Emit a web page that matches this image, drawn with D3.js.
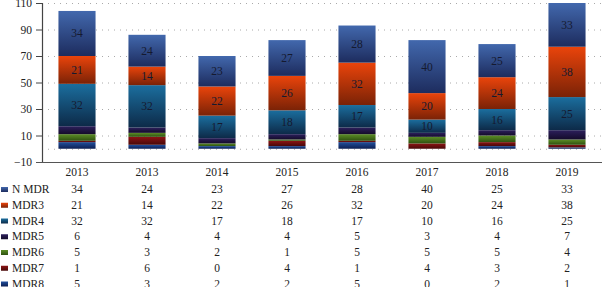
<!DOCTYPE html>
<html>
<head>
<meta charset="utf-8">
<script src="https://cdn.jsdelivr.net/npm/d3@7"></script>
<style>
	body { margin: 0; background: #fff; }
	svg text { font-family: "Liberation Serif", "DejaVu Serif", serif; fill: #222; }
</style>
</head>
<body>
<div id="graphic"></div>
<script>
// categories and series (bottom to top in the stack)
const years = ["2013", "2013", "2014", "2015", "2016", "2017", "2018", "2019"];
const nMdr = [34, 24, 23, 27, 28, 40, 25, 33];
const mdr3 = [21, 14, 22, 26, 32, 20, 24, 38];
const mdr4 = [32, 32, 17, 18, 17, 10, 16, 25];
const mdr5 = [6, 4, 4, 4, 5, 3, 4, 7];
const mdr6 = [5, 3, 2, 1, 5, 5, 5, 4];
const mdr7 = [1, 6, 0, 4, 1, 4, 3, 2];
const mdr8 = [5, 3, 2, 2, 5, 0, 2, 1];
const yTicks = [-10, 10, 30, 50, 70, 90, 110];

// table order (top row first)
const series = [
	{ name: "N MDR", values: nMdr, top: "#4268ad", bottom: "#1d2c5e", label: true },
	{ name: "MDR3", values: mdr3, top: "#ea440b", bottom: "#7a2206", label: true },
	{ name: "MDR4", values: mdr4, top: "#1b6e9e", bottom: "#0d2a48", label: true },
	{ name: "MDR5", values: mdr5, top: "#2c1f5c", bottom: "#140b2a", label: false },
	{ name: "MDR6", values: mdr6, top: "#5c8e26", bottom: "#2e5010", label: false },
	{ name: "MDR7", values: mdr7, top: "#8c1414", bottom: "#480808", label: false },
	{ name: "MDR8", values: mdr8, top: "#21509e", bottom: "#0d1f52", label: false }
];

const width = 602, height = 287;
const margin = { top: 3, left: 42, right: 0 };
const plotBottom = 162;

const svg = d3.select('#graphic').append('svg')
	.attr('width', width)
	.attr('height', height);

const defs = svg.append('defs');
series.forEach((s, i) => {
	const g = defs.append('linearGradient')
		.attr('id', 'grad' + i)
		.attr('x1', 0).attr('y1', 0).attr('x2', 0).attr('y2', 1);
	g.append('stop').attr('offset', '0%').attr('stop-color', s.top);
	g.append('stop').attr('offset', '100%').attr('stop-color', s.bottom);
});

const x = d3.scaleBand()
	.domain(d3.range(years.length))
	.range([margin.left, width - margin.right])
	.paddingInner(0.47)
	.paddingOuter(0.235);

const y = d3.scaleLinear()
	.domain([-10, 110])
	.range([plotBottom, margin.top]);

// dotted gridlines
svg.append('g')
	.selectAll('line')
	.data(yTicks.slice(1).concat([0]))
	.join('line')
	.attr('x1', margin.left)
	.attr('x2', width)
	.attr('y1', d => y(d) + 0.5)
	.attr('y2', d => y(d) + 0.5)
	.attr('stroke', '#aaa')
	.attr('stroke-width', 1)
	.attr('stroke-dasharray', '1,5');

// stack
const table = years.map((yr, i) => {
	const row = { idx: i };
	series.forEach(s => row[s.name] = s.values[i]);
	return row;
});
const keys = series.map(s => s.name).reverse();
const stacked = d3.stack().keys(keys)(table);

const layers = svg.append('g')
	.selectAll('g')
	.data(stacked)
	.join('g')
	.attr('fill', d => 'url(#grad' + series.findIndex(s => s.name === d.key) + ')');

layers.selectAll('rect')
	.data(d => d)
	.join('rect')
	.attr('x', d => x(d.data.idx))
	.attr('width', x.bandwidth())
	.attr('y', d => y(d[1]))
	.attr('height', d => Math.max(0, y(d[0]) - y(d[1])));

// labels inside the big segments
stacked.forEach(layer => {
	const s = series.find(s => s.name === layer.key);
	if (!s.label) return;
	svg.append('g')
		.selectAll('text')
		.data(layer)
		.join('text')
		.attr('x', d => x(d.data.idx) + x.bandwidth() / 2)
		.attr('y', d => (y(d[0]) + y(d[1])) / 2 + 4)
		.attr('text-anchor', 'middle')
		.style('font-size', '11.5px')
		.style('fill', '#151a30')
		.text(d => d[1] - d[0]);
});

// y axis
const yAxis = d3.axisLeft(y)
	.tickValues(yTicks)
	.tickSize(6)
	.tickPadding(4)
	.tickFormat(d => d < 0 ? '\u2212' + Math.abs(d) : d);

const yG = svg.append('g')
	.attr('transform', `translate(${margin.left},0)`)
	.call(yAxis);
yG.select('.domain').attr('stroke', '#444').attr('stroke-width', 1.2);
yG.selectAll('.tick line').attr('stroke', '#444');
yG.selectAll('text')
	.style('font-size', '11.5px')
	.style('font-family', '"Liberation Serif", serif')
	.attr('fill', '#222');

// x axis line
svg.append('line')
	.attr('x1', margin.left - 6)
	.attr('x2', width)
	.attr('y1', plotBottom + 0.5)
	.attr('y2', plotBottom + 0.5)
	.attr('stroke', '#555')
	.attr('stroke-width', 1.2);

// header years
svg.append('g')
	.selectAll('text')
	.data(years)
	.join('text')
	.attr('x', (d, i) => x(i) + x.bandwidth() / 2)
	.attr('y', 176)
	.attr('text-anchor', 'middle')
	.style('font-size', '11.5px')
	.text(d => d);

// data table rows
const rowY = d3.scaleLinear().domain([0, series.length - 1]).range([193, 287.5]);

const rows = svg.append('g')
	.selectAll('g')
	.data(series)
	.join('g')
	.attr('transform', (d, i) => `translate(0,${rowY(i)})`);

rows.append('rect')
	.attr('x', 1)
	.attr('y', -6)
	.attr('width', 7)
	.attr('height', 5)
	.attr('fill', (d, i) => 'url(#grad' + i + ')');

rows.append('text')
	.attr('x', 12)
	.attr('y', 0)
	.style('font-size', '11.5px')
	.text(d => d.name);

rows.selectAll('text.val')
	.data(d => d.values)
	.join('text')
	.attr('class', 'val')
	.attr('x', (d, i) => x(i) + x.bandwidth() / 2)
	.attr('y', 0)
	.attr('text-anchor', 'middle')
	.style('font-size', '11.5px')
	.text(d => d);
</script>
</body>
</html>
